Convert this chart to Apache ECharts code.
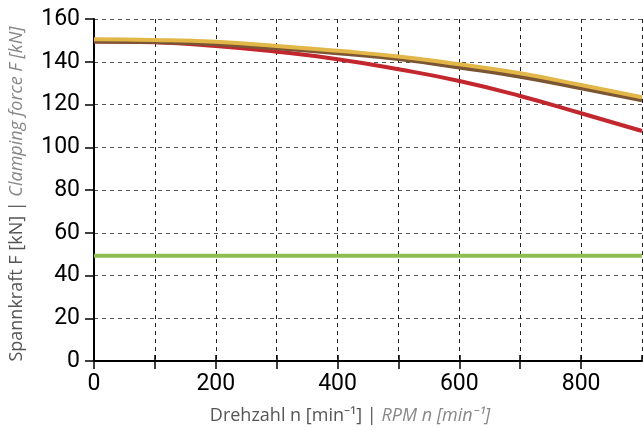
<!DOCTYPE html>
<html>
<head>
<meta charset="utf-8">
<script src="https://cdn.jsdelivr.net/npm/echarts@6/dist/echarts.min.js"></script>
<style>
  html, body { margin: 0; padding: 0; background: #fff; }
  #chart { width: 643px; height: 430px; }
</style>
</head>
<body>
<div id="chart"></div>
<script>
// Drehzahl n [min-1]
var rpm = [0, 100, 200, 300, 400, 500, 600, 700, 800, 900];
// Spannkraft F [kN]
var forceYellow = [150.5, 150.2, 149.3, 147.4, 145.1, 142.5, 138.8, 134.6, 129.1, 123.4];
var forceBrown = [149.5, 149.2, 148.2, 146.3, 144.0, 141.3, 137.3, 133.0, 127.6, 122.0];
var forceRed = [149.5, 149.1, 147.4, 144.7, 141.2, 136.5, 131.0, 124.0, 115.9, 107.6];
var forceGreen = [49.2, 49.2, 49.2, 49.2, 49.2, 49.2, 49.2, 49.2, 49.2, 49.2];

function pairs(vals) {
  return rpm.map(function (x, i) { return [x, vals[i]]; });
}

var fontFam = 'Roboto, "Noto Sans", sans-serif';
var titleFam = '"Open Sans", "Noto Sans", sans-serif';
var chart = echarts.init(document.getElementById('chart'));

var option = {
  animation: false,
  grid: { left: 94, right: 1, top: 19, bottom: 69, containLabel: false },
  xAxis: [{
    type: 'value',
    min: 0, max: 900, interval: 100,
    position: 'bottom',
    name: '{a|Drehzahl n [min⁻¹] | }{b|RPM n [min⁻¹]}',
    nameLocation: 'middle',
    nameGap: 46,
    nameTextStyle: {
      padding: [0, 36, 0, 0],
      rich: {
        a: { fontFamily: titleFam, fontSize: 18, color: '#555' },
        b: { fontFamily: titleFam, fontSize: 18, color: '#888', fontStyle: 'italic' }
      }
    },
    axisLine: { lineStyle: { color: '#000', width: 2 } },
    axisTick: { show: true, length: 8, lineStyle: { color: '#000', width: 1.5 } },
    axisLabel: {
      showMaxLabel: false, margin: 12,
      fontFamily: fontFam, fontSize: 23, color: '#000',
      formatter: function (v) { return v % 200 === 0 ? String(v) : ''; }
    },
    splitLine: { show: true, lineStyle: { color: '#222', type: [4, 4], width: 1 } }
  }, {
    type: 'value',
    min: 0, max: 900, interval: 100,
    position: 'bottom',
    axisLine: { show: false },
    axisTick: { show: true, inside: true, length: 6, lineStyle: { color: '#000', width: 1.5 } },
    axisLabel: { show: false },
    splitLine: { show: false }
  }],
  yAxis: {
    type: 'value',
    min: 0, max: 160, interval: 20,
    name: '{a|Spannkraft F [kN] | }{b|Clamping force F [kN]}',
    nameLocation: 'middle',
    nameGap: 68,
    nameTextStyle: {
      padding: [0, 8, 0, 0],
      rich: {
        a: { fontFamily: titleFam, fontSize: 18, color: '#555' },
        b: { fontFamily: titleFam, fontSize: 18, color: '#888', fontStyle: 'italic' }
      }
    },
    axisLine: { show: true, lineStyle: { color: '#000', width: 2 } },
    axisTick: { show: true, length: 9, lineStyle: { color: '#000', width: 1.5 } },
    axisLabel: { margin: 14, fontFamily: fontFam, fontSize: 23, color: '#000' },
    splitLine: { show: true, lineStyle: { color: '#555', type: [4, 4], width: 1 } }
  },
  series: [{
    type: 'line', data: pairs(forceGreen), smooth: true, symbol: 'none',
    lineStyle: { color: '#8cbf4f', width: 4 }
  }, {
    type: 'line', data: pairs(forceRed), smooth: true, symbol: 'none',
    lineStyle: { color: '#c1272d', width: 4 }
  }, {
    type: 'line', data: pairs(forceBrown), smooth: true, symbol: 'none',
    lineStyle: { color: '#7b5534', width: 4 }
  }, {
    type: 'line', data: pairs(forceYellow), smooth: true, symbol: 'none',
    lineStyle: { color: '#e2b647', width: 4 }
  }]
};
chart.setOption(option);
</script>
</body>
</html>
